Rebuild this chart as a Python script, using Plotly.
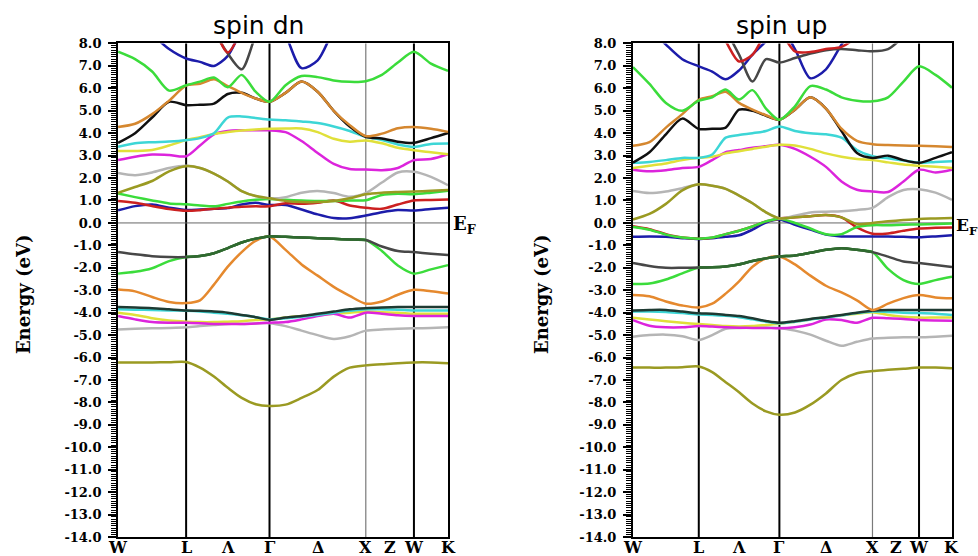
import plotly.graph_objects as go

# k-path coordinates (units of 2*pi/a) along W-L-Gamma-X-W-K
K = [0.000, 0.177, 0.354, 0.530, 0.707, 0.851, 0.996, 1.140, 1.284, 1.429, 1.573,
     1.740, 1.906, 2.073, 2.240, 2.406, 2.573, 2.740, 2.906, 3.073, 3.250, 3.427]
TICK_POS = [0.000, 0.707, 1.140, 1.573, 2.073, 2.573, 2.823, 3.073, 3.427]
TICK_TEXT = ["W", "L", "Λ", "Γ", "Δ", "X", "Z", "W", "K"]
VLINES_BLACK = [0.707, 1.573, 3.073]
VLINES_GREY = [2.573]
E_TICKS = list(range(-14, 9))
E_LABELS = ["%.1f" % v for v in E_TICKS]

# ---------------- spin dn bands (eV) ----------------
dn_olive = [-6.22,-6.22,-6.22,-6.21,-6.2, -6.45,-6.85,-7.35,-7.8,-8.08,-8.16, -8.1,-7.8,-7.45,-6.85,-6.45,-6.35, -6.3,-6.25,-6.22, -6.22,-6.25]
dn_grey = [-4.75,-4.72,-4.7,-4.68,-4.65, -4.6,-4.55,-4.5,-4.5,-4.48,-4.47, -4.6,-4.8,-5.0,-5.17,-5.05,-4.8, -4.75,-4.72,-4.7, -4.68,-4.65]
dn_yel = [-4.0,-4.1,-4.25,-4.35,-4.4, -4.42,-4.42,-4.4,-4.38,-4.33,-4.3, -4.22,-4.15,-4.1,-4.05,-4.0,-3.95, -3.98,-4.0,-4.05, -4.05,-4.05]
dn_mag = [-4.15,-4.3,-4.42,-4.45,-4.45, -4.47,-4.5,-4.5,-4.5,-4.48,-4.45, -4.42,-4.3,-4.15,-4.05,-4.22,-4.0, -4.05,-4.12,-4.15, -4.15,-4.15]
dn_cyan = [-3.85,-3.87,-3.88,-3.9,-3.92, -3.95,-4.0,-4.05,-4.12,-4.2,-4.3, -4.25,-4.18,-4.1,-4.0,-3.92,-3.85, -3.85,-3.87,-3.9, -3.9,-3.9]
dn_dark = [-3.75,-3.77,-3.8,-3.85,-3.9, -3.92,-3.95,-4.0,-4.1,-4.2,-4.32, -4.22,-4.15,-4.05,-3.95,-3.85,-3.8, -3.77,-3.75,-3.75, -3.75,-3.75]
dn_orange_lo = [-2.97,-3.05,-3.3,-3.52,-3.57, -3.45,-2.75,-1.95,-1.3,-0.8,-0.6, -1.2,-1.85,-2.35,-2.85,-3.25,-3.6, -3.5,-3.2,-2.98, -3.05,-3.15]
dn_green_lo = [-2.26,-2.18,-2.02,-1.7,-1.52, -1.47,-1.35,-1.12,-0.87,-0.7,-0.6, -0.62,-0.65,-0.68,-0.71,-0.74,-0.76, -1.25,-1.9,-2.26, -2.07,-1.88]
dn_dgrey = [-1.3,-1.4,-1.48,-1.52,-1.52, -1.47,-1.35,-1.12,-0.87,-0.7,-0.6, -0.62,-0.65,-0.68,-0.71,-0.74,-0.76, -1.05,-1.25,-1.3, -1.37,-1.43]
dn_blue = [0.56,0.75,0.82,0.68,0.58, 0.6,0.63,0.66,0.82,0.9,0.8, 0.8,0.6,0.38,0.22,0.21,0.33, 0.48,0.58,0.55, 0.62,0.68]
dn_red = [0.98,0.9,0.75,0.62,0.54, 0.57,0.63,0.68,0.72,0.74,0.74, 0.88,0.85,0.9,1.0,0.78,0.68, 0.63,0.82,1.0, 1.02,1.04]
dn_green_mid = [1.31,1.15,1.0,0.87,0.83, 0.78,0.74,0.85,0.96,1.03,1.07, 1.03,1.0,0.98,0.98,1.0,1.01, 1.25,1.3,1.28, 1.35,1.43]
dn_grey_hi = [2.23,2.13,2.25,2.45,2.55, 2.45,2.2,1.85,1.42,1.2,1.1, 1.15,1.35,1.42,1.33,1.17,1.33, 1.8,2.25,2.28, 2.05,1.68]
dn_olive_hi = [1.34,1.6,1.87,2.3,2.53, 2.45,2.2,1.85,1.42,1.2,1.1, 0.98,0.93,0.93,0.98,1.1,1.28, 1.35,1.38,1.4, 1.43,1.47]
dn_mag_hi = [2.8,2.95,3.05,3.03,2.97, 3.45,3.95,4.1,4.13,4.13,4.13, 4.05,3.65,3.12,2.63,2.4,2.38, 2.35,2.45,2.8, 2.85,3.06]
dn_yel_hi = [3.21,3.21,3.25,3.45,3.69, 3.82,3.97,4.05,4.12,4.17,4.2, 4.21,4.21,4.05,3.75,3.62,3.68, 3.55,3.35,3.24, 3.15,3.06]
dn_cyan_hi = [3.39,3.55,3.6,3.63,3.69, 3.78,4.0,4.7,4.75,4.68,4.61, 4.58,4.52,4.45,4.3,4.1,3.84, 3.7,3.5,3.39, 3.52,3.54]
dn_black = [3.57,4.0,4.7,5.4,5.25, 5.27,5.32,5.75,5.8,5.55,5.4, 5.8,6.3,5.85,5.0,4.3,3.84, 3.76,3.62,3.57, 3.78,4.01]
dn_orange_hi = [4.28,4.42,4.85,5.45,6.12, 6.2,6.4,6.1,5.8,5.55,5.4, 5.8,6.3,5.85,5.0,4.36,3.87, 3.98,4.22,4.28, 4.2,4.06]
dn_green_hi = [7.63,7.3,6.75,5.9,6.14, 6.3,6.48,6.05,6.6,5.85,5.4, 6.14,6.55,6.5,6.35,6.29,6.32, 6.6,7.15,7.63, 7.1,6.78]
dn_blue_hi = [9.6,9.0,8.4,7.75,7.33, 7.18,7.0,7.45,8.6,9.4,9.8, 8.4,6.9,7.25,8.6,9.5,9.8, 10,10,10, 10,10]
dn_dgrey_hi = [10,10,10,10,10, 10,8.6,7.55,6.85,8.35,9.5, 10,10,10,10,10,10, 10,10,10, 10,10]
dn_red_hi = [10,10,10,10,10, 10,8.7,7.6,8.6,10,10, 10,10,10,10,10,10, 10,10,10, 10,10]

# ---------------- spin up bands (eV) ----------------
up_olive = [-6.45,-6.45,-6.45,-6.43,-6.4, -6.65,-7.1,-7.55,-8.05,-8.4,-8.55, -8.45,-8.1,-7.6,-7.0,-6.7,-6.6, -6.55,-6.5,-6.45, -6.45,-6.48]
up_grey = [-5.07,-5.0,-4.98,-5.05,-5.22, -5.0,-4.72,-4.68,-4.67,-4.66,-4.68, -4.8,-4.98,-5.25,-5.48,-5.3,-5.15, -5.12,-5.1,-5.1, -5.07,-5.03]
up_yel = [-4.23,-4.3,-4.38,-4.45,-4.51, -4.55,-4.6,-4.62,-4.6,-4.55,-4.5, -4.4,-4.3,-4.2,-4.12,-4.05,-3.98, -4.1,-4.18,-4.22, -4.22,-4.22]
up_mag = [-4.33,-4.58,-4.65,-4.65,-4.6, -4.62,-4.65,-4.67,-4.68,-4.68,-4.7, -4.65,-4.53,-4.3,-4.33,-4.45,-4.23, -4.25,-4.28,-4.33, -4.35,-4.36]
up_cyan = [-3.95,-3.95,-3.97,-4.02,-4.08, -4.1,-4.14,-4.2,-4.3,-4.4,-4.47, -4.4,-4.3,-4.22,-4.12,-4.02,-3.95, -3.97,-4.0,-4.02, -4.05,-4.1]
up_dark = [-3.9,-3.88,-3.88,-3.95,-4.03, -4.05,-4.1,-4.15,-4.25,-4.37,-4.45, -4.38,-4.28,-4.2,-4.1,-4.0,-3.92, -3.88,-3.88,-3.88, -3.88,-3.88]
up_orange_lo = [-3.21,-3.27,-3.5,-3.68,-3.77, -3.6,-3.15,-2.6,-1.95,-1.58,-1.5, -1.85,-2.35,-2.8,-3.1,-3.45,-3.88, -3.6,-3.35,-3.21, -3.32,-3.36]
up_green_lo = [-2.72,-2.7,-2.52,-2.25,-1.99, -1.98,-1.94,-1.85,-1.7,-1.58,-1.5, -1.45,-1.33,-1.2,-1.13,-1.2,-1.3, -2.05,-2.55,-2.72, -2.55,-2.4]
up_dgrey = [-1.79,-1.92,-2.0,-2.0,-1.99, -1.98,-1.94,-1.85,-1.7,-1.58,-1.5, -1.45,-1.33,-1.2,-1.13,-1.2,-1.3, -1.5,-1.72,-1.79, -1.88,-1.97]
up_blue = [-0.62,-0.6,-0.62,-0.68,-0.72, -0.68,-0.62,-0.55,-0.3,0.02,0.15, -0.08,-0.3,-0.52,-0.6,-0.6,-0.6, -0.6,-0.62,-0.64, -0.6,-0.55]
up_red = [-0.15,-0.28,-0.5,-0.65,-0.7, -0.66,-0.5,-0.35,-0.16,0.07,0.19, 0.25,0.3,0.35,0.25,-0.2,-0.48, -0.47,-0.35,-0.25, -0.22,-0.2]
up_green_ef = [-0.18,-0.3,-0.52,-0.65,-0.7, -0.65,-0.5,-0.35,-0.16,0.07,0.19, 0.0,-0.25,-0.5,-0.5,-0.18,-0.1, -0.1,-0.08,-0.07, -0.05,-0.03]
up_grey_hi = [1.42,1.33,1.4,1.55,1.72, 1.66,1.52,1.22,0.88,0.47,0.2, 0.32,0.47,0.5,0.52,0.58,0.67, 1.15,1.47,1.5, 1.35,1.03]
up_olive_hi = [0.15,0.4,0.85,1.45,1.72, 1.66,1.52,1.22,0.88,0.47,0.2, 0.25,0.3,0.35,0.25,-0.05,0.0, 0.07,0.13,0.18, 0.2,0.22]
up_mag_hi = [2.37,2.3,2.35,2.45,2.5, 2.8,3.15,3.25,3.35,3.42,3.48, 3.3,2.95,2.5,1.85,1.48,1.4, 1.38,1.85,2.37, 2.25,2.37]
up_yel_hi = [2.45,2.55,2.65,2.8,2.9, 2.95,3.1,3.2,3.3,3.4,3.48, 3.45,3.3,3.1,2.95,2.85,2.8, 2.7,2.6,2.55, 2.5,2.45]
up_cyan_hi = [2.68,2.72,2.8,2.9,2.9, 3.05,3.8,3.92,4.0,4.1,4.3, 4.1,4.0,3.95,3.8,3.25,2.97, 2.88,2.78,2.68, 2.72,2.75]
up_black = [2.69,3.15,3.95,4.65,4.19, 4.2,4.25,5.05,5.0,4.78,4.6, 5.05,5.6,5.1,4.1,3.12,2.9, 3.0,2.8,2.68, 2.9,3.15]
up_orange_hi = [3.44,3.6,4.25,4.85,5.49, 5.65,5.85,5.35,5.05,4.8,4.6, 5.05,5.6,5.1,4.2,3.66,3.51, 3.47,3.45,3.44, 3.42,3.39]
up_green_hi = [6.95,6.2,5.35,5.0,5.45, 5.6,5.95,5.5,5.92,5.1,4.6, 5.2,6.1,5.95,5.6,5.45,5.42, 5.6,6.3,6.98, 6.6,6.03]
up_blue_hi = [9.4,8.7,7.95,7.3,6.98, 6.75,6.4,6.8,7.5,8.1,8.8, 7.75,6.45,6.85,7.95,9.0,9.5, 10,10,10, 10,10]
up_dgrey_hi = [10,10,10,10,10, 9.5,8.6,7.5,6.3,7.3,7.15, 7.35,7.55,7.7,7.75,7.7,7.65, 7.75,8.3,9.0, 9.5,9.5]
up_red_hi = [10,10,10,10,10, 9.0,8.1,7.2,7.5,8.4,8.5, 7.65,7.62,7.75,7.85,8.3,9.0, 10,10,10, 10,10]

COL = dict(olive="#9a9a22", grey="#b5b5b5", magenta="#dc24dc", yellow="#e0e03a",
           cyan="#3dd6d6", dark="#1e3a32", orange="#e5892e", green="#3bdc3b",
           dgrey="#474747", dkgreen="#2f6a2f", blue="#1c1caa", red="#cc2020",
           black="#101010", brown="#d5872f")

dn_bands = [(dn_olive, "olive"), (dn_grey, "grey"), (dn_yel, "yellow"), (dn_mag, "magenta"),
            (dn_cyan, "cyan"), (dn_dark, "dark"), (dn_orange_lo, "orange"),
            (dn_green_lo, "green"), (dn_dgrey, "dgrey"),
            (dn_blue, "blue"), (dn_red, "red"), (dn_green_mid, "green"),
            (dn_grey_hi, "grey"), (dn_olive_hi, "olive"), (dn_mag_hi, "magenta"),
            (dn_yel_hi, "yellow"), (dn_cyan_hi, "cyan"), (dn_black, "black"),
            (dn_orange_hi, "brown"), (dn_green_hi, "green"), (dn_blue_hi, "blue"),
            (dn_dgrey_hi, "dgrey"), (dn_red_hi, "red")]
up_bands = [(up_olive, "olive"), (up_grey, "grey"), (up_yel, "yellow"), (up_mag, "magenta"),
            (up_cyan, "cyan"), (up_dark, "dark"), (up_orange_lo, "orange"),
            (up_green_lo, "green"), (up_dgrey, "dgrey"),
            (up_blue, "blue"), (up_red, "red"), (up_green_ef, "green"),
            (up_grey_hi, "grey"), (up_olive_hi, "olive"), (up_mag_hi, "magenta"),
            (up_yel_hi, "yellow"), (up_cyan_hi, "cyan"), (up_black, "black"),
            (up_orange_hi, "brown"), (up_green_hi, "green"), (up_blue_hi, "blue"),
            (up_dgrey_hi, "dgrey"), (up_red_hi, "red")]

LW = 2.5
fig = go.Figure()


def add_panel(bands, green_lo, xa, ya):
    for vals, col in bands:
        fig.add_trace(go.Scatter(
            x=K, y=vals, mode="lines", xaxis=xa, yaxis=ya, hoverinfo="skip",
            showlegend=False,
            line=dict(color=COL[col], width=LW, shape="spline", smoothing=0.8)))
    # dark-green where the green band runs together with the dark grey band (L..X)
    fig.add_trace(go.Scatter(
        x=K[4:17], y=green_lo[4:17], mode="lines", xaxis=xa, yaxis=ya,
        hoverinfo="skip", showlegend=False,
        line=dict(color=COL["dkgreen"], width=LW, shape="spline", smoothing=0.8)))


add_panel(dn_bands, dn_green_lo, "x", "y")
add_panel(up_bands, up_green_lo, "x2", "y2")

serif = "DejaVu Serif"


def xaxis(domain, anchor):
    return dict(domain=domain, anchor=anchor, range=[K[0], K[-1]], automargin=False,
                showticklabels=False, ticks="",
                showgrid=False, zeroline=False, showline=True, mirror=True,
                linecolor="black", linewidth=2)


def yaxis(anchor):
    return dict(domain=[0.0342, 0.9218], anchor=anchor, range=[-14, 8], automargin=False,
                tickmode="array", tickvals=E_TICKS, ticktext=E_LABELS,
                ticks="outside", ticklen=8, tickwidth=1.5, tickcolor="black",
                ticklabelstandoff=4,
                minor=dict(tickmode="linear", tick0=-14, dtick=0.1, ticks="outside",
                           ticklen=5, tickwidth=1, tickcolor="black"),
                showgrid=False, zeroline=False, showline=True, mirror=True,
                linecolor="black", linewidth=2,
                tickfont=dict(family=serif, size=13, color="black", weight="bold"))


shapes = []
for xr, yr in (("x", "y"), ("x2", "y2")):
    for kx in VLINES_BLACK:
        shapes.append(dict(type="line", xref=xr, yref=yr + " domain", x0=kx, x1=kx,
                           y0=0, y1=1, line=dict(color="black", width=2), layer="below"))
    for kx in VLINES_GREY:
        shapes.append(dict(type="line", xref=xr, yref=yr + " domain", x0=kx, x1=kx,
                           y0=0, y1=1, line=dict(color="#7a7a7a", width=1.2), layer="below"))
    shapes.append(dict(type="line", xref=xr + " domain", yref=yr, x0=0, x1=1, y0=0, y1=0,
                       line=dict(color="#666666", width=1), layer="below"))

annotations = [
    dict(text="spin dn", x=0.264, y=0.955, xref="paper", yref="paper", showarrow=False,
         xanchor="center", yanchor="middle",
         font=dict(family="DejaVu Sans", size=25, color="black")),
    dict(text="spin up", x=0.7986, y=0.955, xref="paper", yref="paper", showarrow=False,
         xanchor="center", yanchor="middle",
         font=dict(family="DejaVu Sans", size=25, color="black")),
    dict(text="Energy (eV)", x=0.0235, y=0.471, xref="paper", yref="paper", showarrow=False,
         textangle=-90, xanchor="center", yanchor="middle",
         font=dict(family=serif, size=18, color="black", weight="bold")),
    dict(text="Energy (eV)", x=0.553, y=0.471, xref="paper", yref="paper", showarrow=False,
         textangle=-90, xanchor="center", yanchor="middle",
         font=dict(family=serif, size=18, color="black", weight="bold")),
    dict(text="E<sub>F</sub>", x=0.461, y=0.596, xref="paper", yref="paper", showarrow=False,
         xanchor="left", yanchor="middle",
         font=dict(family=serif, size=18, color="black", weight="bold")),
    dict(text="E<sub>F</sub>", x=0.9755, y=0.592, xref="paper", yref="paper", showarrow=False,
         xanchor="left", yanchor="middle",
         font=dict(family=serif, size=17, color="black", weight="bold")),
]
# k-point labels under each panel
for xr in ("x", "x2"):
    for kx, lab in zip(TICK_POS, TICK_TEXT):
        annotations.append(dict(text=lab, x=kx, y=0.0155, xref=xr, yref="paper",
                                showarrow=False, xanchor="center", yanchor="middle",
                                font=dict(family=serif, size=16, color="black",
                                          weight="bold")))

fig.update_layout(
    width=978, height=556, autosize=False,
    margin=dict(l=0, r=0, t=0, b=0, pad=0),
    paper_bgcolor="white", plot_bgcolor="white",
    xaxis=xaxis([0.1207, 0.4581], "y"),
    yaxis=yaxis("x"),
    xaxis2=xaxis([0.6472, 0.9734], "y2"),
    yaxis2=yaxis("x2"),
    shapes=shapes,
    annotations=annotations,
)

fig.write_html("out.html", config={"displayModeBar": False},
               post_script="document.body.style.margin='0px';document.body.style.overflow='hidden';")
